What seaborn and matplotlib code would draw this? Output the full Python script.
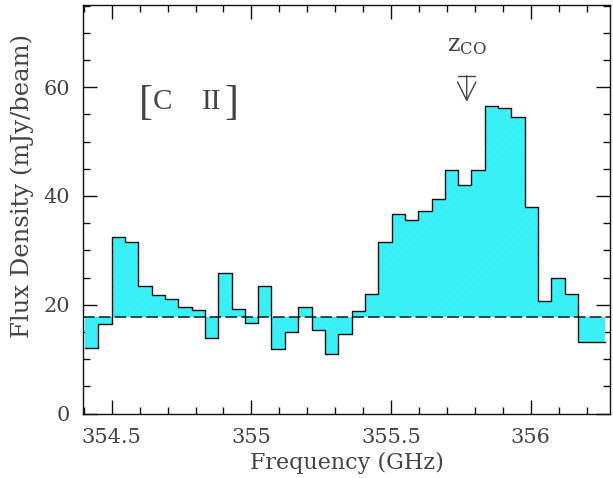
import numpy as np
import matplotlib
matplotlib.use("Agg")
import matplotlib.pyplot as plt
from matplotlib.ticker import MultipleLocator
import seaborn as sns
import pandas as pd

# ---- data ----
bin_edges = [354.405, 354.452, 354.500, 354.548, 354.595, 354.643, 354.691, 354.739,
             354.786, 354.834, 354.882, 354.929, 354.977, 355.025, 355.072, 355.120,
             355.168, 355.216, 355.263, 355.311, 355.359, 355.406, 355.454, 355.502,
             355.549, 355.597, 355.645, 355.693, 355.740, 355.788, 355.836, 355.883,
             355.931, 355.979, 356.026, 356.074, 356.122, 356.170, 356.217, 356.265]
flux = [12.0, 16.5, 32.5, 31.5, 23.5, 21.8, 21.1, 19.5, 19.0, 13.9,
        25.9, 19.2, 16.6, 23.5, 11.9, 15.0, 19.5, 15.4, 10.9, 14.7,
        18.8, 21.9, 31.5, 36.7, 35.5, 37.3, 39.5, 44.7, 42.0, 44.8,
        56.5, 56.1, 54.6, 37.9, 20.6, 24.9, 22.0, 13.1, 13.1]
continuum = 17.8
z_co_freq = 355.771
line_label = ["[", "C", "II", "]"]
xticks = [354.5, 355.0, 355.5, 356.0]
xticklabels = ["354.5", "355", "355.5", "356"]
yticks = [0, 20, 40, 60]

TXT = "#444444"

sns.set_theme(style="ticks")
plt.rcParams["font.family"] = ["DejaVu Serif"]
plt.rcParams["mathtext.fontset"] = "dejavuserif"

fig = plt.figure(figsize=(6.13, 4.78), dpi=100)
ax = fig.add_axes([0.1349, 0.1349, 0.8602, 0.8546])

step_x = bin_edges
step_y = flux + [flux[-1]]
df = pd.DataFrame({"freq": step_x, "flux": step_y})

ax.fill_between(step_x, step_y, continuum, step="post", facecolor="#30F4FA",
                edgecolor="#55E2EA", hatch="////", linewidth=0.0, zorder=1)
sns.lineplot(data=df, x="freq", y="flux", ax=ax, drawstyle="steps-post",
             color="#111111", linewidth=1.0, sort=False, zorder=3)
ax.axhline(continuum, color="#1a2a2a", linewidth=1.2, dashes=(7, 2.5), zorder=2)

ax.set_xlim(354.396, 356.284)
ax.set_ylim(0, 75.1)
ax.set_xticks(xticks)
ax.set_xticklabels(xticklabels)
ax.set_yticks(yticks)
ax.xaxis.set_minor_locator(MultipleLocator(0.1))
ax.yaxis.set_minor_locator(MultipleLocator(5))
ax.tick_params(which="both", direction="in", top=True, right=True, color="#111111",
               width=1.0, labelcolor=TXT, labelsize=15)
ax.tick_params(which="major", length=10)
ax.tick_params(which="minor", length=5)
ax.tick_params(axis="x", which="major", pad=10.5)
ax.tick_params(axis="y", which="major", pad=9)
for s in ax.spines.values():
    s.set_linewidth(1.0)
    s.set_color("#111111")

ax.set_xlabel("Frequency (GHz)", fontsize=16, color=TXT)
ax.set_ylabel("Flux Density (mJy/beam)", fontsize=17.5, color=TXT)
ax.xaxis.set_label_coords(0.501, -0.094)
ax.yaxis.set_label_coords(-0.092, 0.558)

# [C II] label pieces
ax.text(354.622, 57.0, line_label[0], fontsize=30, family="Liberation Serif",
        color=TXT, ha="center", va="center")
ax.text(354.682, 57.2, line_label[1], fontsize=21, family="Liberation Serif",
        color=TXT, ha="center", va="center")
ax.text(354.857, 57.2, line_label[2], fontsize=21, family="Liberation Serif",
        color=TXT, ha="center", va="center")
ax.text(354.928, 57.0, line_label[3], fontsize=30, family="Liberation Serif",
        color=TXT, ha="center", va="center")

# z_CO marker
ax.text(z_co_freq, 67.6, r"$\mathrm{z}_{\mathrm{CO}}$", fontsize=17,
        color=TXT, ha="center", va="center")
ax.plot([z_co_freq - 0.03, z_co_freq + 0.03], [62.1, 62.1], color=TXT, lw=1.0)
ax.annotate("", xy=(z_co_freq, 57.3), xytext=(z_co_freq, 62.1),
            arrowprops=dict(arrowstyle="->,head_length=0.6,head_width=0.3",
                            color=TXT, lw=1.0,
                            mutation_scale=22, shrinkA=0, shrinkB=0))

fig.savefig("out.png", dpi=100)
